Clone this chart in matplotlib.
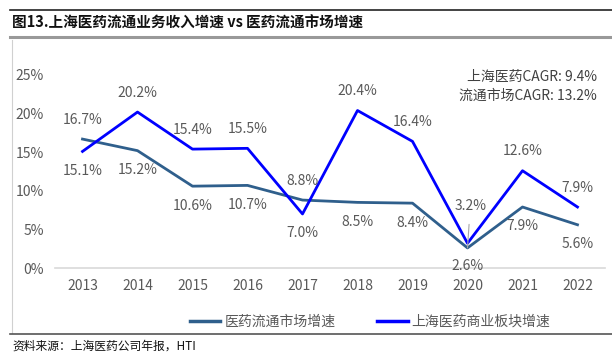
import matplotlib.pyplot as plt
from matplotlib.lines import Line2D

plt.rcParams['font.family'] = ['Noto Sans CJK SC', 'DejaVu Sans']

years = ['2013', '2014', '2015', '2016', '2017', '2018', '2019', '2020', '2021', '2022']
market = [16.7, 15.2, 10.6, 10.7, 8.8, 8.5, 8.4, 2.6, 7.9, 5.6]
shpharma = [15.1, 20.2, 15.4, 15.5, 7.0, 20.4, 16.4, 3.2, 12.6, 7.9]
# label side: +1 above, -1 below
market_pos = [1, -1, -1, -1, 1, -1, -1, -1, -1, -1]
sh_pos = [-1, 1, 1, 1, -1, 1, 1, 1, 1, 1]
yticks = [0, 5, 10, 15, 20, 25]

c_market = '#2F5F8C'
c_sh = '#0000FF'
grey = '#595959'

fig = plt.figure(figsize=(6.12, 3.55), dpi=100)
ax = fig.add_axes([55/612, 87/355, 550/612, 193/355])
x = list(range(len(years)))
ax.plot(x, market, color=c_market, lw=2.0, label='医药流通市场增速')
ax.plot(x, shpharma, color=c_sh, lw=2.0, label='上海医药商业板块增速')

for i in x:
    if i == 7:
        continue
    ax.annotate(f'{market[i]:.1f}%', (i, market[i]), xytext=(0, 14 * market_pos[i]),
                textcoords='offset points', ha='center', va='center', fontsize=10, color=grey)
    ax.annotate(f'{shpharma[i]:.1f}%', (i, shpharma[i]), xytext=(0, 14 * sh_pos[i]),
                textcoords='offset points', ha='center', va='center', fontsize=10, color=grey)
ax.annotate(f'{market[7]:.1f}%', (7, market[7]), xytext=(0, -13),
            textcoords='offset points', ha='center', va='center', fontsize=10, color=grey)
ax.annotate(f'{shpharma[7]:.1f}%', (7, market[7]), xytext=(2, 30),
            textcoords='offset points', ha='center', va='center', fontsize=10, color=grey,
            arrowprops=dict(arrowstyle='-', color='#A6A6A6', lw=0.8, shrinkA=6, shrinkB=0))

ax.set_xlim(-0.5, len(years) - 0.5)
ax.set_ylim(0, 25)
ax.set_xticks(x)
ax.set_xticklabels(years)
ax.set_yticks(yticks)
ax.set_yticklabels([f'{v}%' for v in yticks])
ax.tick_params(length=0, labelsize=10, labelcolor=grey, pad=8)
for s in ['top', 'right', 'left']:
    ax.spines[s].set_visible(False)
ax.spines['bottom'].set_color('#D9D9D9')
ax.spines['bottom'].set_linewidth(1.2)

ax.text(0.985, 1.025, '上海医药CAGR: 9.4%\n流通市场CAGR: 13.2%', transform=ax.transAxes,
        ha='right', va='top', fontsize=10, color='#404040', linespacing=1.4)

fig.legend(handles=[Line2D([], [], color=c_market, lw=2.5), Line2D([], [], color=c_sh, lw=2.5)],
           labels=['医药流通市场增速', '上海医药商业板块增速'], loc='center', ncol=2,
           bbox_to_anchor=(370/612, 1 - 322/355), frameon=False, fontsize=10,
           labelcolor=grey, handlelength=2.2, columnspacing=3, handletextpad=0.3)

# frame lines
fig.add_artist(Line2D([10/612, 1], [1 - 9.5/355] * 2, color='#222222', lw=1.2))
fig.add_artist(Line2D([10/612, 1], [1 - 36.5/355] * 2, color='#999999', lw=2.2))
fig.add_artist(Line2D([11.5/612] * 2, [1 - 40/355, 1 - 333/355], color='#D0D0D0', lw=0.8))
fig.add_artist(Line2D([10/612, 1], [1 - 333.5/355] * 2, color='#555555', lw=1.2))

fig.text(12/612, 1 - 23/355, '图13.上海医药流通业务收入增速 vs 医药流通市场增速',
         ha='left', va='center', fontsize=10.5, fontweight='bold', color='#111111')
fig.text(12/612, 1 - 346/355, '资料来源：上海医药公司年报，HTI',
         ha='left', va='center', fontsize=8.5, color='#111111')

fig.savefig('out.png', dpi=100)
